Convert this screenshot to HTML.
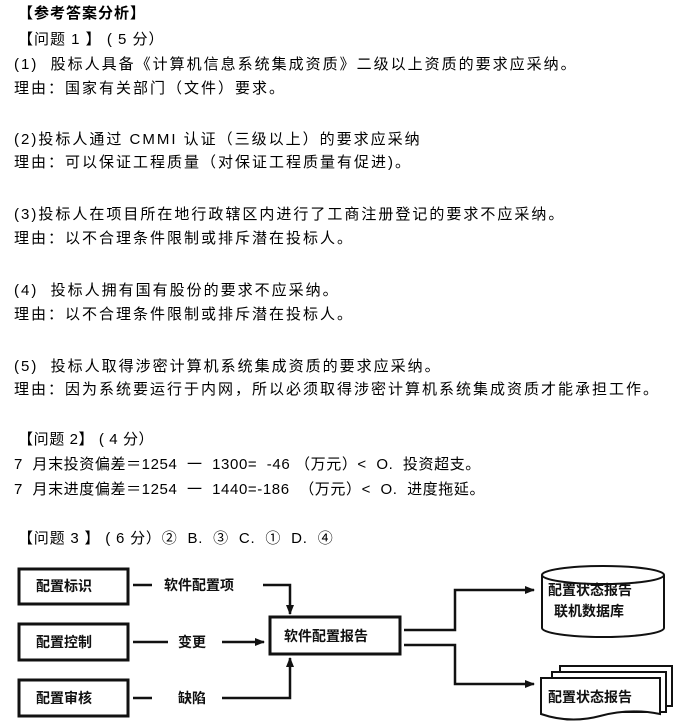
<!DOCTYPE html>
<html><head><meta charset="utf-8"><style>
body{margin:0;width:698px;height:726px;background:#fff;position:relative;overflow:hidden;font-family:"Liberation Sans","Noto Sans CJK SC",sans-serif;font-size:15px;letter-spacing:2px;color:#000}
.l{position:absolute;white-space:nowrap;line-height:18px}
.b{font-weight:bold}
.n{letter-spacing:0.6px}
</style></head><body>
<div class="l b" style="left:18px;top:5px;letter-spacing:1px">【参考答案分析】</div>
<div class="l" style="left:18px;top:31px;letter-spacing:1px">【问题 1 】 ( 5 分）</div>
<div class="l" style="left:14px;top:56px">(1) &nbsp;股标人具备《计算机信息系统集成资质》二级以上资质的要求应采纳。</div>
<div class="l" style="left:14px;top:80px">理由：国家有关部门（文件）要求。</div>
<div class="l" style="left:14px;top:131px">(2)投标人通过 CMMI 认证（三级以上）的要求应采纳</div>
<div class="l" style="left:14px;top:154px">理由：可以保证工程质量（对保证工程质量有促进)。</div>
<div class="l" style="left:14px;top:206px">(3)投标人在项目所在地行政辖区内进行了工商注册登记的要求不应采纳。</div>
<div class="l" style="left:14px;top:230px">理由：以不合理条件限制或排斥潜在投标人。</div>
<div class="l" style="left:14px;top:282px">(4) &nbsp;投标人拥有国有股份的要求不应采纳。</div>
<div class="l" style="left:14px;top:306px">理由：以不合理条件限制或排斥潜在投标人。</div>
<div class="l" style="left:14px;top:358px">(5) &nbsp;投标人取得涉密计算机系统集成资质的要求应采纳。</div>
<div class="l" style="left:14px;top:381px">理由：因为系统要运行于内网，所以必须取得涉密计算机系统集成资质才能承担工作。</div>
<div class="l n" style="left:18px;top:431px">【问题 2】 ( 4 分）</div>
<div class="l n" style="left:14px;top:456px">7 &nbsp;月末投资偏差＝1254 &nbsp;一 &nbsp;1300= &nbsp;-46 （万元）&lt; &nbsp;O. &nbsp;投资超支。</div>
<div class="l n" style="left:14px;top:481px">7 &nbsp;月末进度偏差＝1254 &nbsp;一 &nbsp;1440=-186 &nbsp;（万元）&lt; &nbsp;O. &nbsp;进度拖延。</div>
<div class="l" style="left:18px;top:530px;letter-spacing:0.8px">【问题 3 】 ( 6 分）② &nbsp;B. &nbsp;③ &nbsp;C. &nbsp;① &nbsp;D. &nbsp;④</div>
<svg width="698" height="726" style="position:absolute;left:0;top:0;letter-spacing:0" font-family="Liberation Sans,Noto Sans CJK SC,sans-serif" font-weight="bold" font-size="14">
<defs><marker id="a" markerUnits="userSpaceOnUse" markerWidth="10" markerHeight="10" refX="9" refY="5" orient="auto"><path d="M0,1L10,5L0,9z" fill="#111"/></marker></defs>
<g stroke="#111" stroke-width="2" fill="#fff">
<rect x="19" y="569" width="109" height="35" stroke-width="3"/>
<rect x="19" y="624" width="109" height="36" stroke-width="3"/>
<rect x="19" y="680" width="109" height="36" stroke-width="3"/>
<rect x="270" y="617" width="130" height="37" stroke-width="3"/>
<path d="M542,575 L542,628 A61,9 0 0 0 664,628 L664,575" />
<ellipse cx="603" cy="575" rx="61" ry="9"/>
<path d="M560,666 H672 V706 H560z"/>
<path d="M552,672 H666 V712 H552z"/>
<path d="M541,678 H660 V714 Q630,708 600,716 Q570,724 541,714z"/>
</g>
<g stroke="#111" stroke-width="2.5" fill="none">
<path d="M133,585H152"/><path d="M263,585H290V614" marker-end="url(#a)"/>
<path d="M133,642H168"/><path d="M222,642H264" marker-end="url(#a)"/>
<path d="M133,698H152"/><path d="M222,698H290V658" marker-end="url(#a)"/>
<path d="M404,630H455V590H534" marker-end="url(#a)"/>
<path d="M404,645H455V684H534" marker-end="url(#a)"/>
</g>
<g fill="#111">
<text x="36" y="591">配置标识</text>
<text x="36" y="647">配置控制</text>
<text x="36" y="703">配置审核</text>
<text x="164" y="590">软件配置项</text>
<text x="178" y="647">变更</text>
<text x="178" y="703">缺陷</text>
<text x="284" y="641">软件配置报告</text>
<text x="548" y="595">配置状态报告</text>
<text x="554" y="616">联机数据库</text>
<text x="548" y="702">配置状态报告</text>
</g>
</svg>
</body></html>
